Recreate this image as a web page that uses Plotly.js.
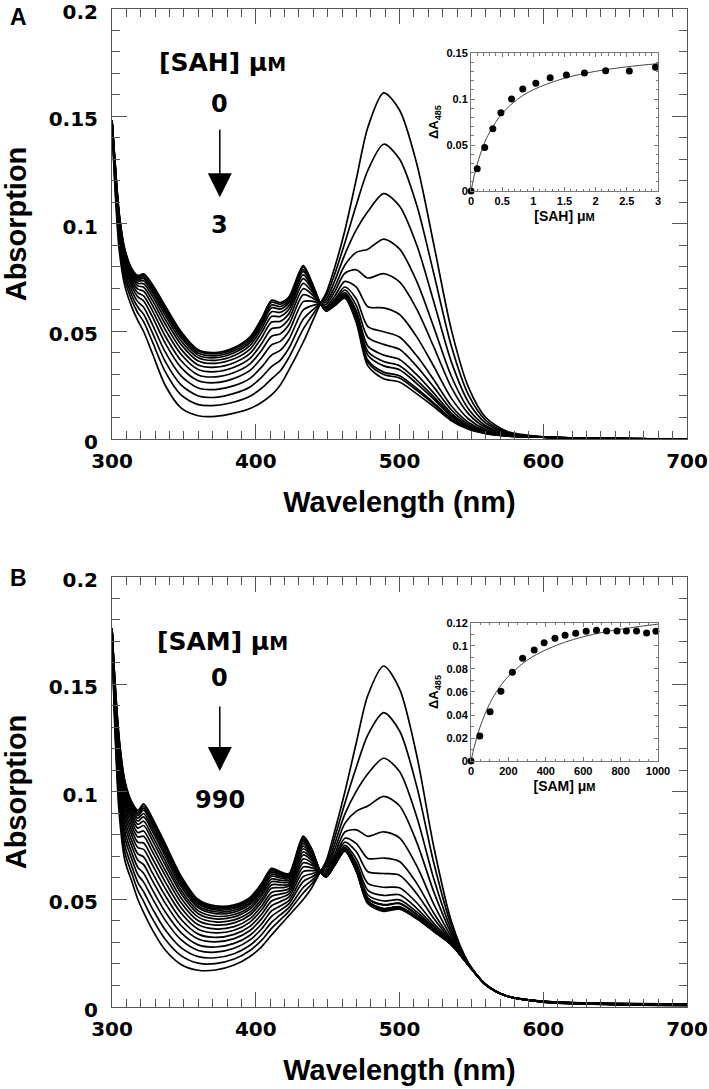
<!DOCTYPE html>
<html><head><meta charset="utf-8">
<script src="https://cdn.plot.ly/plotly-3.0.1.min.js"></script>
<style>html,body{margin:0;padding:0;background:#fff;} #chart{width:709px;height:1089px;}</style>
</head><body><div id="chart"></div>
<script>
// ---------- shared wavelength grid (nm) ----------
const wavelengthNm = [300,302,305,309,314,318,322,328,337,348,360,372,385,396,404,411,417,423,433,439,445,449,455,462,470,478,489,500,512,524,536,548,560,575,600,650,700];

// ---------- Panel A: spectra during SAH titration (0 -> 3 uM) ----------
const sah0  = [0.148,0.118,0.088,0.071,0.061,0.055,0.050,0.040,0.025,0.0145,0.0108,0.0105,0.012,0.0142,0.017,0.0205,0.025,0.032,0.045,0.054,0.063,0.068,0.080,0.097,0.121,0.145,0.161,0.153,0.128,0.090,0.051,0.024,0.010,0.0035,0.001,0.0002,0];
const sah1  = [0.148,0.1200,0.0909,0.0739,0.0641,0.0586,0.0546,0.0454,0.0313,0.0205,0.0160,0.0156,0.0172,0.0199,0.0236,0.0280,0.0316,0.0378,0.0511,0.0572,0.063,0.0665,0.0768,0.0913,0.1089,0.1250,0.1371,0.1302,0.1087,0.0765,0.0434,0.0205,0.0087,0.0031,0.0010,0.0002,0];
const sah2  = [0.148,0.1216,0.0931,0.0761,0.0664,0.0613,0.0580,0.0496,0.0361,0.0252,0.0200,0.0194,0.0212,0.0242,0.0287,0.0337,0.0366,0.0422,0.0557,0.0597,0.063,0.0650,0.0736,0.0859,0.0974,0.1058,0.1141,0.1084,0.0902,0.0635,0.0360,0.0171,0.0074,0.0028,0.0009,0.0002,0];
const sah3  = [0.148,0.1230,0.0951,0.0781,0.0686,0.0638,0.0613,0.0534,0.0405,0.0294,0.0237,0.0230,0.0248,0.0282,0.0334,0.0390,0.0412,0.0463,0.0600,0.0620,0.063,0.0637,0.0708,0.0809,0.0868,0.0883,0.0930,0.0884,0.0733,0.0517,0.0293,0.0140,0.0062,0.0024,0.0009,0.0002,0];
const sah4  = [0.148,0.1244,0.0970,0.0800,0.0705,0.0661,0.0642,0.0570,0.0446,0.0333,0.0271,0.0262,0.0282,0.0319,0.0377,0.0438,0.0454,0.0500,0.0639,0.0641,0.063,0.0626,0.0686,0.0771,0.0787,0.0749,0.0769,0.0731,0.0604,0.0426,0.0241,0.0117,0.0053,0.0022,0.0009,0.0002,0];
const sah5  = [0.148,0.1254,0.0985,0.0815,0.0722,0.0680,0.0666,0.0598,0.0479,0.0365,0.0298,0.0289,0.0309,0.0349,0.0412,0.0478,0.0489,0.0531,0.0671,0.0658,0.063,0.0616,0.0665,0.0733,0.0706,0.0615,0.0610,0.0579,0.0475,0.0336,0.0190,0.0093,0.0044,0.0019,0.0008,0.0002,0];
const sah6  = [0.148,0.1264,0.0999,0.0829,0.0736,0.0697,0.0688,0.0624,0.0509,0.0394,0.0323,0.0313,0.0334,0.0375,0.0443,0.0513,0.0520,0.0558,0.0699,0.0673,0.063,0.0609,0.0650,0.0707,0.0651,0.0523,0.0499,0.0474,0.0387,0.0274,0.0155,0.0077,0.0037,0.0018,0.0008,0.0002,0];
const sah7  = [0.148,0.1272,0.1011,0.0841,0.0749,0.0712,0.0706,0.0646,0.0535,0.0418,0.0344,0.0334,0.0355,0.0398,0.0470,0.0544,0.0547,0.0582,0.0724,0.0686,0.063,0.0605,0.0642,0.0693,0.0620,0.0473,0.0440,0.0417,0.0338,0.0240,0.0136,0.0068,0.0034,0.0017,0.0008,0.0002,0];
const sah8  = [0.148,0.1280,0.1021,0.0851,0.0759,0.0724,0.0722,0.0666,0.0557,0.0440,0.0363,0.0352,0.0373,0.0418,0.0494,0.0570,0.0570,0.0602,0.0746,0.0698,0.063,0.0602,0.0635,0.0681,0.0596,0.0432,0.0390,0.0370,0.0299,0.0212,0.0120,0.0061,0.0031,0.0016,0.0008,0.0002,0];
const sah9  = [0.148,0.1286,0.1030,0.0860,0.0768,0.0735,0.0736,0.0682,0.0576,0.0457,0.0378,0.0366,0.0388,0.0435,0.0513,0.0592,0.0589,0.0619,0.0763,0.0707,0.063,0.0600,0.0631,0.0674,0.0580,0.0407,0.0360,0.0341,0.0274,0.0195,0.0111,0.0057,0.0030,0.0015,0.0008,0.0002,0];
const sah10 = [0.148,0.1290,0.1036,0.0866,0.0776,0.0743,0.0747,0.0694,0.0590,0.0472,0.0390,0.0378,0.0401,0.0448,0.0529,0.0610,0.0604,0.0633,0.0778,0.0715,0.063,0.0599,0.0628,0.0669,0.0570,0.0390,0.0340,0.0322,0.0258,0.0184,0.0104,0.0054,0.0028,0.0015,0.0008,0.0002,0];
const sah11 = [0.148,0.1294,0.1042,0.0872,0.0781,0.0750,0.0755,0.0704,0.0602,0.0482,0.0400,0.0387,0.0410,0.0458,0.0541,0.0623,0.0616,0.0643,0.0788,0.0721,0.063,0.0597,0.0624,0.0662,0.0555,0.0366,0.0311,0.0294,0.0235,0.0167,0.0095,0.0050,0.0027,0.0014,0.0008,0.0002,0];
const sah12 = [0.148,0.1298,0.1047,0.0877,0.0786,0.0756,0.0763,0.0714,0.0613,0.0493,0.0409,0.0396,0.0419,0.0468,0.0552,0.0636,0.0627,0.0653,0.0799,0.0726,0.063,0.0596,0.0623,0.0660,0.0550,0.0357,0.0300,0.0284,0.0226,0.0161,0.0091,0.0048,0.0026,0.0014,0.0008,0.0002,0];
const sah13 = [0.148,0.130,0.105,0.088,0.079,0.076,0.0768,0.072,0.062,0.050,0.0415,0.0402,0.0425,0.0475,0.056,0.0645,0.0635,0.066,0.0806,0.073,0.063,0.0595,0.062,0.0655,0.054,0.034,0.028,0.0265,0.021,0.015,0.0085,0.0045,0.0025,0.0014,0.0008,0.0002,0];

// ---------- Panel B: spectra during SAM titration (0 -> 990 uM) ----------
const sam0  = [0.176,0.130,0.090,0.068,0.058,0.050,0.044,0.036,0.0265,0.0198,0.0171,0.0172,0.0195,0.0235,0.028,0.0335,0.038,0.0425,0.050,0.0555,0.063,0.068,0.082,0.100,0.123,0.145,0.1586,0.148,0.117,0.074,0.040,0.0205,0.0105,0.005,0.0025,0.0016,0.0012];
const sam1  = [0.176,0.1322,0.0935,0.0717,0.0617,0.0542,0.0491,0.0412,0.0315,0.0239,0.0204,0.0202,0.0223,0.0263,0.0310,0.0366,0.0405,0.0445,0.0530,0.0573,0.063,0.0666,0.0790,0.0948,0.1116,0.1266,0.1369,0.1285,0.1026,0.0666,0.0379,0.0203,0.0105,0.005,0.0026,0.0014,0.0010];
const sam2  = [0.176,0.1342,0.0967,0.0750,0.0650,0.0579,0.0536,0.0459,0.0359,0.0276,0.0234,0.0229,0.0248,0.0287,0.0336,0.0394,0.0428,0.0462,0.0556,0.0589,0.063,0.0652,0.0760,0.0897,0.1004,0.1085,0.1157,0.1095,0.0884,0.0593,0.0359,0.0201,0.0105,0.005,0.0024,0.0012,0.0008];
const sam3  = [0.176,0.1362,0.0998,0.0784,0.0684,0.0616,0.0581,0.0506,0.0404,0.0313,0.0263,0.0255,0.0273,0.0312,0.0363,0.0422,0.0450,0.0480,0.0583,0.0605,0.063,0.0640,0.0735,0.0854,0.0911,0.0935,0.0980,0.0936,0.0766,0.0533,0.0342,0.0200,0.0104,0.005,0.0025,0.0015,0.0011];
const sam4  = [0.176,0.1379,0.1026,0.0813,0.0713,0.0649,0.0622,0.0547,0.0443,0.0346,0.0289,0.0279,0.0296,0.0334,0.0386,0.0447,0.0470,0.0495,0.0606,0.0620,0.063,0.0629,0.0712,0.0814,0.0824,0.0794,0.0815,0.0787,0.0656,0.0476,0.0326,0.0198,0.0104,0.005,0.0023,0.0013,0.0009];
const sam5  = [0.176,0.1397,0.1054,0.0843,0.0743,0.0683,0.0662,0.0589,0.0483,0.0379,0.0316,0.0303,0.0318,0.0356,0.0410,0.0471,0.0490,0.0511,0.0630,0.0634,0.063,0.0621,0.0695,0.0785,0.0760,0.0691,0.0693,0.0677,0.0575,0.0435,0.0314,0.0197,0.0104,0.005,0.0026,0.0016,0.0013];
const sam6  = [0.176,0.1412,0.1079,0.0869,0.0769,0.0712,0.0698,0.0625,0.0518,0.0408,0.0339,0.0324,0.0338,0.0375,0.0431,0.0493,0.0508,0.0525,0.0651,0.0647,0.063,0.0617,0.0685,0.0767,0.0722,0.0629,0.0621,0.0613,0.0527,0.0410,0.0307,0.0197,0.0104,0.005,0.0024,0.0012,0.0009];
const sam7  = [0.176,0.1428,0.1103,0.0895,0.0795,0.0741,0.0733,0.0662,0.0552,0.0437,0.0362,0.0345,0.0357,0.0395,0.0451,0.0515,0.0525,0.0538,0.0671,0.0659,0.063,0.0612,0.0676,0.0752,0.0689,0.0575,0.0557,0.0555,0.0485,0.0388,0.0301,0.0196,0.0103,0.005,0.0025,0.0014,0.0011];
const sam8  = [0.176,0.1441,0.1124,0.0917,0.0817,0.0766,0.0763,0.0693,0.0582,0.0462,0.0382,0.0363,0.0374,0.0411,0.0469,0.0533,0.0540,0.0550,0.0689,0.0670,0.063,0.0610,0.0670,0.0743,0.0669,0.0543,0.0519,0.0522,0.0459,0.0375,0.0297,0.0196,0.0103,0.005,0.0023,0.0011,0.0007];
const sam9  = [0.176,0.1454,0.1145,0.0939,0.0839,0.0791,0.0794,0.0724,0.0612,0.0486,0.0401,0.0381,0.0391,0.0428,0.0487,0.0552,0.0555,0.0562,0.0707,0.0681,0.063,0.0608,0.0667,0.0737,0.0655,0.0521,0.0493,0.0498,0.0442,0.0366,0.0295,0.0195,0.0103,0.005,0.0026,0.0015,0.0012];
const sam10 = [0.176,0.1465,0.1163,0.0958,0.0858,0.0811,0.0819,0.0750,0.0636,0.0507,0.0418,0.0396,0.0405,0.0441,0.0501,0.0568,0.0568,0.0571,0.0721,0.0690,0.063,0.0607,0.0664,0.0732,0.0646,0.0506,0.0476,0.0483,0.0431,0.0361,0.0293,0.0195,0.0103,0.005,0.0024,0.0013,0.0010];
const sam11 = [0.176,0.1476,0.1180,0.0976,0.0876,0.0832,0.0844,0.0776,0.0661,0.0528,0.0434,0.0410,0.0419,0.0455,0.0516,0.0583,0.0580,0.0581,0.0736,0.0699,0.063,0.0606,0.0662,0.0728,0.0637,0.0491,0.0458,0.0466,0.0418,0.0354,0.0291,0.0195,0.0103,0.005,0.0025,0.0017,0.0014];
const sam12 = [0.176,0.1485,0.1194,0.0991,0.0891,0.0849,0.0864,0.0797,0.0681,0.0544,0.0447,0.0422,0.0430,0.0466,0.0528,0.0595,0.0590,0.0589,0.0748,0.0706,0.063,0.0605,0.0661,0.0726,0.0632,0.0484,0.0450,0.0459,0.0413,0.0352,0.0290,0.0195,0.0103,0.005,0.0023,0.0012,0.0008];
const sam13 = [0.176,0.1494,0.1208,0.1006,0.0906,0.0865,0.0884,0.0818,0.0701,0.0561,0.0461,0.0434,0.0441,0.0477,0.0540,0.0608,0.0600,0.0597,0.0760,0.0713,0.063,0.0606,0.0662,0.0728,0.0636,0.0490,0.0457,0.0465,0.0418,0.0354,0.0291,0.0195,0.0103,0.005,0.0026,0.0014,0.0011];
const sam14 = [0.176,0.1500,0.1219,0.1017,0.0917,0.0878,0.0900,0.0833,0.0716,0.0573,0.0470,0.0443,0.0450,0.0485,0.0549,0.0617,0.0608,0.0603,0.0769,0.0719,0.063,0.0606,0.0662,0.0727,0.0635,0.0489,0.0456,0.0464,0.0417,0.0353,0.0291,0.0195,0.0103,0.005,0.0024,0.0016,0.0013];
const sam15 = [0.176,0.1507,0.1229,0.1028,0.0928,0.0890,0.0915,0.0849,0.0730,0.0585,0.0480,0.0452,0.0458,0.0494,0.0557,0.0626,0.0615,0.0608,0.0777,0.0724,0.063,0.0606,0.0662,0.0728,0.0636,0.0490,0.0457,0.0465,0.0418,0.0354,0.0291,0.0195,0.0103,0.005,0.0025,0.0013,0.0009];
const sam16 = [0.176,0.1511,0.1236,0.1035,0.0935,0.0898,0.0925,0.0859,0.0740,0.0594,0.0487,0.0458,0.0464,0.0499,0.0563,0.0633,0.0620,0.0612,0.0783,0.0728,0.063,0.0606,0.0662,0.0727,0.0635,0.0490,0.0456,0.0465,0.0418,0.0354,0.0291,0.0195,0.0103,0.005,0.0023,0.0011,0.0007];
const sam17 = [0.176,0.1516,0.1243,0.1043,0.0943,0.0907,0.0935,0.0870,0.0750,0.0602,0.0493,0.0464,0.0469,0.0505,0.0569,0.0639,0.0625,0.0616,0.0789,0.0731,0.063,0.0607,0.0664,0.0732,0.0645,0.0504,0.0474,0.0481,0.0429,0.0360,0.0293,0.0195,0.0103,0.005,0.0026,0.0015,0.0012];
const sam18 = [0.176,0.152,0.125,0.105,0.095,0.0915,0.0945,0.088,0.076,0.061,0.050,0.047,0.0475,0.051,0.0575,0.0645,0.063,0.062,0.0795,0.0735,0.063,0.0605,0.066,0.0725,0.063,0.048,0.0445,0.0455,0.041,0.035,0.029,0.0195,0.0103,0.005,0.0024,0.0014,0.0010];

// ---------- Insets: delta A485 titration points and drawn fit curves ----------
const sahConcUM    = [0,0.10,0.22,0.35,0.48,0.65,0.83,1.04,1.27,1.53,1.82,2.16,2.54,2.96];
const sahDeltaA485 = [0,0.0242,0.0474,0.0676,0.085,0.1001,0.111,0.1171,0.1232,0.1261,0.1283,0.1308,0.1305,0.1345];
const sahFitConc   = [0,0.05,0.1,0.2,0.3,0.5,0.75,1,1.5,2,2.5,3];
const sahFitDelta  = [0,0.0161,0.0292,0.0494,0.0641,0.0842,0.0999,0.1101,0.1226,0.1301,0.135,0.1384];

const samConcUM    = [0,47,102,160,221,276,338,391,449,503,560,616,671,725,781,831,885,939,989];
const samDeltaA485 = [0,0.0217,0.0429,0.0606,0.0771,0.0893,0.0965,0.1029,0.1067,0.1093,0.111,0.1128,0.1136,0.113,0.113,0.113,0.113,0.1113,0.1128];
const samFitConc   = [0,10,25,50,100,150,200,300,400,500,600,700,800,900,1000];
const samFitDelta  = [0,0.0073,0.017,0.0303,0.0499,0.0636,0.0737,0.0876,0.0967,0.1032,0.108,0.1117,0.1146,0.117,0.119];

const sahSpectra = [sah0,sah1,sah2,sah3,sah4,sah5,sah6,sah7,sah8,sah9,sah10,sah11,sah12,sah13];
const samSpectra = [sam0,sam1,sam2,sam3,sam4,sam5,sam6,sam7,sam8,sam9,sam10,sam11,sam12,sam13,sam14,sam15,sam16,sam17,sam18];

const FONT = 'Liberation Sans, Arial, Helvetica, sans-serif';
const NUMFONT = 'DejaVu Sans, Liberation Sans, Arial, sans-serif';
const traces = [];
sahSpectra.forEach(function(v){
  traces.push({type:'scatter',mode:'lines',x:wavelengthNm,y:v,xaxis:'x',yaxis:'y',
    line:{color:'#000',width:1.7,shape:'spline',smoothing:0.8},hoverinfo:'skip'});
});
samSpectra.forEach(function(v){
  traces.push({type:'scatter',mode:'lines',x:wavelengthNm,y:v,xaxis:'x2',yaxis:'y2',
    line:{color:'#000',width:1.7,shape:'spline',smoothing:0.8},hoverinfo:'skip'});
});
traces.push({type:'scatter',mode:'lines',x:sahFitConc,y:sahFitDelta,xaxis:'x3',yaxis:'y3',
  line:{color:'#444',width:1,shape:'spline'},hoverinfo:'skip'});
traces.push({type:'scatter',mode:'markers',x:sahConcUM,y:sahDeltaA485,xaxis:'x3',yaxis:'y3',
  marker:{color:'#000',size:7},cliponaxis:false,hoverinfo:'skip'});
traces.push({type:'scatter',mode:'lines',x:samFitConc,y:samFitDelta,xaxis:'x4',yaxis:'y4',
  line:{color:'#444',width:1,shape:'spline'},hoverinfo:'skip'});
traces.push({type:'scatter',mode:'markers',x:samConcUM,y:samDeltaA485,xaxis:'x4',yaxis:'y4',
  marker:{color:'#000',size:7},cliponaxis:false,hoverinfo:'skip'});

const AXC = '#555';
function mainX(domain, anchor){
  return {domain:domain,anchor:anchor,range:[300,700],tick0:300,dtick:100,
    ticks:'inside',ticklen:15,tickwidth:1,tickcolor:AXC,
    minor:{dtick:10,ticks:'inside',ticklen:8,tickwidth:1,tickcolor:AXC},
    showline:true,linecolor:AXC,linewidth:1,mirror:'ticks',showgrid:false,zeroline:false,
    ticklabeloverflow:'allow',ticklabelstandoff:4,
    tickfont:{family:NUMFONT,size:20,weight:'bold',color:'#000'},
    title:{text:'Wavelength (nm)',font:{family:FONT,size:29,weight:'bold',color:'#000'},standoff:19}};
}
function mainY(domain, anchor){
  return {domain:domain,anchor:anchor,range:[0,0.2],tick0:0,dtick:0.05,
    ticks:'inside',ticklen:15,tickwidth:1,tickcolor:AXC,
    minor:{dtick:0.01,ticks:'inside',ticklen:8,tickwidth:1,tickcolor:AXC},
    showline:true,linecolor:AXC,linewidth:1,mirror:'ticks',showgrid:false,zeroline:false,
    ticklabeloverflow:'allow',ticklabelstandoff:9,ticklabelshift:3,
    tickfont:{family:NUMFONT,size:20,weight:'bold',color:'#000'},
    title:{text:'Absorption',font:{family:FONT,size:29,weight:'bold',color:'#000'},standoff:22}};
}
function insetAxis(domain, anchor, range, dtick, minorDtick, titleText, titleSize){
  return {domain:domain,anchor:anchor,range:range,tick0:0,dtick:dtick,
    ticks:'inside',ticklen:4,tickwidth:1,tickcolor:'#777',
    minor:{dtick:minorDtick,ticks:'inside',ticklen:2.5,tickwidth:1,tickcolor:'#777'},
    showline:true,linecolor:'#777',linewidth:1,mirror:'ticks',showgrid:false,zeroline:false,
    ticklabeloverflow:'allow',
    tickfont:{family:FONT,size:11,weight:'bold',color:'#000'},
    title:{text:titleText,font:{family:FONT,size:titleSize,weight:'bold',color:'#000'},standoff:4}};
}

const lblFont = {family:NUMFONT,size:24,weight:'bold',color:'#000'};
const headFont = {family:NUMFONT,size:25,weight:'bold',color:'#000'};
const panelFont = {family:FONT,size:23,weight:'bold',color:'#000'};
const layout = {
  width:709,height:1089,margin:{l:0,r:0,t:0,b:0},
  paper_bgcolor:'#fff',plot_bgcolor:'rgba(0,0,0,0)',showlegend:false,
  font:{family:FONT,color:'#000'},
  xaxis: mainX([0.15797,0.96897],'y'),
  yaxis: mainY([0.59688,0.99174],'x'),
  xaxis2: mainX([0.15797,0.96897],'y2'),
  yaxis2: mainY([0.0753,0.47016],'x2'),
  xaxis3: insetAxis([0.66432,0.92807],'y3',[0,3],0.5,0.1,'[SAH] μ<span style="font-size:11px">M</span>',14),
  yaxis3: insetAxis([0.8246,0.95133],'x3',[0,0.15],0.05,0.01,'ΔA<sub>485</sub>',13),
  xaxis4: insetAxis([0.66432,0.92807],'y4',[0,1000],200,50,'[SAM] μ<span style="font-size:11px">M</span>',14),
  yaxis4: insetAxis([0.30119,0.42792],'x4',[0,0.12],0.02,0.01,'ΔA<sub>485</sub>',13),
  annotations:[
    {xref:'paper',yref:'paper',x:18/709,y:1-17/1089,xanchor:'center',yanchor:'middle',text:'A',showarrow:false,font:panelFont},
    {xref:'paper',yref:'paper',x:18/709,y:1-578/1089,xanchor:'center',yanchor:'middle',text:'B',showarrow:false,font:panelFont},
    {xref:'x',yref:'y',x:377,y:0.1749,xanchor:'center',yanchor:'middle',text:'[SAH] μ<span style="font-size:19px">M</span>',showarrow:false,font:headFont},
    {xref:'x',yref:'y',x:375,y:0.1558,xanchor:'center',yanchor:'middle',text:'0',showarrow:false,font:lblFont},
    {xref:'x',yref:'y',x:375,y:0.0995,xanchor:'center',yanchor:'middle',text:'3',showarrow:false,font:lblFont},
    {xref:'x',yref:'y',x:375,y:0.1125,ax:375,ay:0.1447,axref:'x',ayref:'y',text:'',showarrow:true,
      arrowhead:2,arrowsize:3.2,arrowwidth:1.5,arrowcolor:'#000'},
    {xref:'x2',yref:'y2',x:377,y:0.170,xanchor:'center',yanchor:'middle',text:'[SAM] μ<span style="font-size:19px">M</span>',showarrow:false,font:headFont},
    {xref:'x2',yref:'y2',x:375,y:0.153,xanchor:'center',yanchor:'middle',text:'0',showarrow:false,font:lblFont},
    {xref:'x2',yref:'y2',x:375,y:0.0962,xanchor:'center',yanchor:'middle',text:'990',showarrow:false,font:lblFont},
    {xref:'x2',yref:'y2',x:375,y:0.1098,ax:375,ay:0.1405,axref:'x2',ayref:'y2',text:'',showarrow:true,
      arrowhead:2,arrowsize:3.2,arrowwidth:1.5,arrowcolor:'#000'}
  ]
};
Plotly.newPlot('chart',traces,layout,{staticPlot:true,displayModeBar:false});
</script></body></html>
